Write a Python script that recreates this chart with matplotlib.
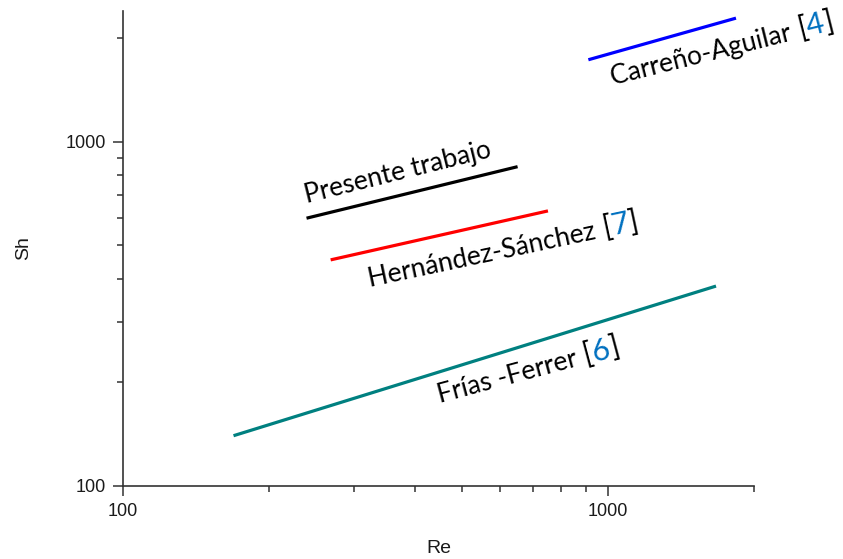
import numpy as np
import matplotlib
matplotlib.use("Agg")
import matplotlib.pyplot as plt
from matplotlib.ticker import NullFormatter, FixedLocator
from matplotlib.transforms import IdentityTransform

plt.rcParams["font.family"] = ["Liberation Sans", "DejaVu Sans"]

# correlations Sh vs Re (end points)
names = ["Frías -Ferrer", "Hernández-Sánchez", "Presente trabajo", "Carreño-Aguilar"]
refs = ["6", "7", "", "4"]
colors = ["#008080", "#ff0000", "#000000", "#0000ff"]
re_vals = [[169, 1670], [268, 752], [239, 651], [911, 1836]]
sh_vals = [[140, 381], [454, 630], [600, 847], [1732, 2288]]

# label placement: baseline-left in image pixels, rotation in degrees
label_pos = [(440, 403, 15), (370, 287, 12), (307, 203, 14), (613, 85, 14)]

W, H = 843, 559
fig = plt.figure(figsize=(W / 100, H / 100), dpi=100)
ax = fig.add_axes([123 / W, 1 - 486 / H, (754 - 123) / W, (486 - 11) / H])

for x, y, c in zip(re_vals, sh_vals, colors):
    ax.plot(x, y, color=c, lw=2.3, solid_capstyle="butt")

ax.set_xscale("log")
ax.set_yscale("log")
ax.set_xlim(100, 2000)
ax.set_ylim(100, 2400)

minor = [200, 300, 400, 500, 600, 700, 800, 900, 2000]
ax.xaxis.set_major_locator(FixedLocator([100, 1000]))
ax.yaxis.set_major_locator(FixedLocator([100, 1000]))
ax.xaxis.set_minor_locator(FixedLocator(minor))
ax.yaxis.set_minor_locator(FixedLocator(minor))
ax.xaxis.set_minor_formatter(NullFormatter())
ax.yaxis.set_minor_formatter(NullFormatter())
ax.set_xticklabels(["100", "1000"])
ax.set_yticklabels(["100", "1000"])

for s in ["top", "right"]:
    ax.spines[s].set_visible(False)
for s in ["left", "bottom"]:
    ax.spines[s].set_color("#333333")
    ax.spines[s].set_linewidth(1.2)
ax.tick_params(which="major", length=7.5, width=1.1, color="#333333",
               labelsize=13, labelcolor="#1a1a1a", pad=5)
ax.tick_params(which="minor", length=4.5, width=1.1, color="#333333")

ax.set_xlabel("Re", fontsize=14, color="#1a1a1a", labelpad=14)
ax.set_ylabel("Sh", fontsize=14, color="#1a1a1a", labelpad=24)

# rotated labels made of black and blue pieces
fig.canvas.draw()
renderer = fig.canvas.get_renderer()
fam = "Lato"
fs = 19


def piece_width(s, size):
    t = fig.text(0, 0, s, fontsize=size, family=fam)
    w = t.get_window_extent(renderer).width
    t.remove()
    return w


for name, ref, (px, py, ang) in zip(names, refs, label_pos):
    parts = [(name, "black", fs)]
    if ref:
        parts = [(name + " ", "black", fs), ("[", "black", fs + 3),
                 (ref, "#0070c0", fs + 3), ("]", "black", fs + 3)]
    x0, y0 = px, H - py
    a = np.radians(ang)
    for s, c, size in parts:
        fig.text(x0, y0, s, transform=IdentityTransform(), fontsize=size, family=fam,
                 color=c, rotation=ang, rotation_mode="anchor",
                 ha="left", va="baseline")
        w = piece_width(s, size)
        if s.endswith(" "):
            w = piece_width(s.strip() + "x", size) - piece_width("x", size) * 0.45
        x0 += w * np.cos(a)
        y0 += w * np.sin(a)

fig.savefig("out.png", dpi=100)
